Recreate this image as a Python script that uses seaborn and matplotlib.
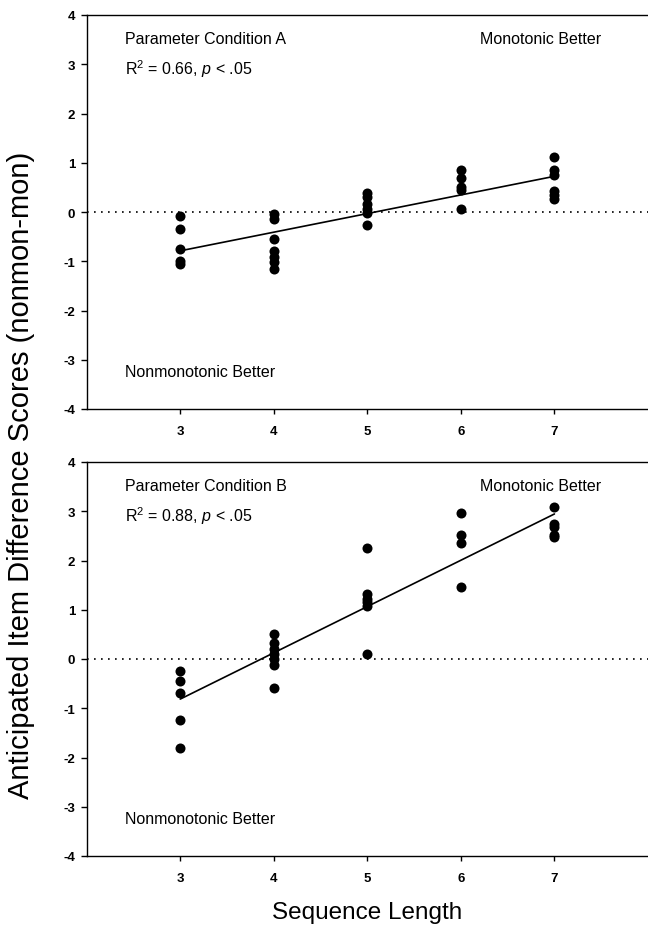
import matplotlib
matplotlib.use("Agg")
import matplotlib.pyplot as plt
import seaborn as sns
import pandas as pd

# ---- data ----
seq_lengths = [3, 4, 5, 6, 7]
y_ticks = [-4, -3, -2, -1, 0, 1, 2, 3, 4]

cond_a_3 = [-0.08, -0.35, -0.75, -1.00, -1.05]
cond_a_4 = [-0.05, -0.15, -0.55, -0.80, -0.92, -1.02, -1.15]
cond_a_5 = [0.38, 0.30, 0.17, 0.07, -0.02, -0.27]
cond_a_6 = [0.85, 0.70, 0.50, 0.45, 0.06]
cond_a_7 = [1.12, 0.85, 0.75, 0.42, 0.35, 0.27]

cond_b_3 = [-0.25, -0.44, -0.69, -1.23, -1.80]
cond_b_4 = [0.50, 0.32, 0.20, 0.10, 0.00, -0.12, -0.58]
cond_b_5 = [2.25, 1.32, 1.22, 1.15, 1.08, 0.10]
cond_b_6 = [2.96, 2.52, 2.36, 1.47]
cond_b_7 = [3.08, 2.75, 2.68, 2.52, 2.48]

panel_titles = ["Parameter Condition A", "Parameter Condition B"]
panel_stats = [r"R$^{2}$ = 0.66, $\it{p}$ < .05", r"R$^{2}$ = 0.88, $\it{p}$ < .05"]
label_mono = "Monotonic Better"
label_nonmono = "Nonmonotonic Better"
x_label = "Sequence Length"
y_label = "Anticipated Item Difference Scores (nonmon-mon)"


def build(groups):
    rows = []
    for L, vals in zip(seq_lengths, groups):
        for v in vals:
            rows.append({"length": L, "score": v})
    return pd.DataFrame(rows)


df_a = build([cond_a_3, cond_a_4, cond_a_5, cond_a_6, cond_a_7])
df_b = build([cond_b_3, cond_b_4, cond_b_5, cond_b_6, cond_b_7])

sns.set_theme(style="ticks")
plt.rcParams["font.family"] = ["Liberation Sans", "DejaVu Sans"]
plt.rcParams["mathtext.fontset"] = "custom"
plt.rcParams["mathtext.rm"] = "Liberation Sans"
plt.rcParams["mathtext.it"] = "Liberation Sans:italic"
plt.rcParams["axes.unicode_minus"] = False
plt.rcParams["text.color"] = "black"

fig = plt.figure(figsize=(6.48, 9.29), dpi=100)
left = 86.7 / 648
width = 1 - left
h = 394 / 929
ax_a = fig.add_axes([left, 1 - 410 / 929, width, h])
ax_b = fig.add_axes([left, 1 - 857 / 929, width, h])

for ax, df, title, stat in zip([ax_a, ax_b], [df_a, df_b], panel_titles, panel_stats):
    ax.axhline(0, color="black", lw=1.2, linestyle=(0, (1, 3.2)), zorder=1)
    sns.regplot(data=df, x="length", y="score", ci=None, ax=ax,
                scatter_kws=dict(s=52, color="black", linewidths=0, alpha=1, zorder=3),
                line_kws=dict(color="black", lw=1.2, zorder=2))
    ax.set_xlim(2, 8)
    ax.set_ylim(-4, 4)
    ax.set_xticks(seq_lengths)
    ax.set_yticks(y_ticks)
    ax.set_xlabel("")
    ax.set_ylabel("")
    ax.spines["right"].set_visible(False)
    for s in ["left", "top", "bottom"]:
        ax.spines[s].set_color("black")
        ax.spines[s].set_linewidth(1.0)
    ax.tick_params(axis="x", direction="out", length=3.5, width=1, pad=8,
                   labelsize=9.5, colors="black")
    ax.tick_params(axis="y", direction="out", length=4.3, width=1, pad=4,
                   labelsize=9.5, colors="black")
    for lab in ax.get_xticklabels() + ax.get_yticklabels():
        lab.set_fontweight("bold")
    ax.text(2.41, 3.52, title, fontsize=11.5, va="center", ha="left")
    ax.text(2.41, 2.92, stat, fontsize=11.5, va="center", ha="left")
    ax.text(6.2, 3.52, label_mono, fontsize=11.5, va="center", ha="left")
    ax.text(2.41, -3.24, label_nonmono, fontsize=11.5, va="center", ha="left")

fig.text(367 / 648, 1 - 919 / 929, x_label, fontsize=17.5, ha="center", va="baseline")
fig.text(21 / 648, 1 - 475 / 929, y_label, fontsize=21, rotation=90, ha="center", va="center")

fig.savefig("out.png", dpi=100)
